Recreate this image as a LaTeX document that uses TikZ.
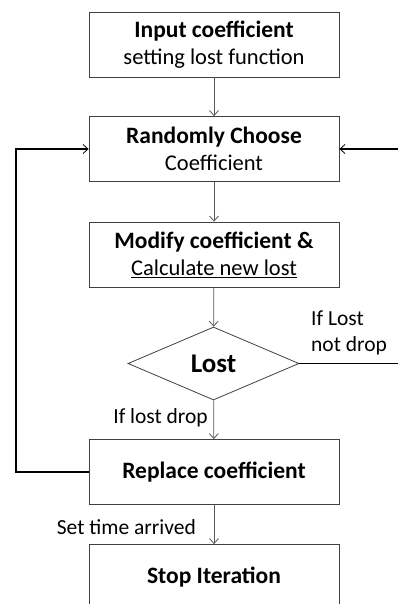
\documentclass[tikz,border=0pt]{standalone}
\usepackage{fontspec}
\setmainfont{Carlito}
\usetikzlibrary{arrows.meta,shapes.geometric}

\newcommand{\boxhead}[1]{{\fontsize{23.5}{27}\selectfont\bfseries #1}}

\tikzset{
    stepbox/.style={draw=black!75, line width=0.8pt, minimum width=250pt, minimum height=65pt,
        align=center, inner sep=0pt, font=\fontsize{22.5}{27}\selectfont},
    flow/.style={draw=black!65, line width=0.8pt, -{Straight Barb[length=5pt,width=9pt]}},
    loop/.style={draw=black, line width=1.5pt, -{Straight Barb[length=5pt,width=9pt,line width=0.8pt]}},
    lbl/.style={font=\fontsize{21.5}{26}\selectfont, inner sep=0pt}
}

\begin{document}
\begin{tikzpicture}[x=1pt,y=-1pt]
        \clip (0,0) rectangle (398,604);
        \useasboundingbox (0,0) rectangle (398,604);

        \node[stepbox] (input) at (214,44.5) {\boxhead{Input coefficient}\\setting lost function};
        \node[stepbox] (choose) at (214,149) {\boxhead{Randomly Choose}\\Coefficient};
        \node[stepbox] (modify) at (214,254.5) {\boxhead{Modify coefficient \&}\\\underline{Calculate new lost}};
        \node[draw=black!75, line width=0.8pt, diamond, aspect=2.34, minimum width=171pt, minimum height=73pt,
              inner sep=0pt, font=\fontsize{27}{30}\selectfont\bfseries] (lost) at (213.5,363.5) {Lost};
        \node[stepbox] (replace) at (214,472) {\boxhead{Replace coefficient}};
        \node[stepbox] (stop) at (214,577) {\boxhead{Stop Iteration}};

        \coordinate (leftdown) at (16,472);
        \coordinate (leftup) at (16,149);
        \coordinate (rightdown) at (401,363.5);
        \coordinate (rightup) at (401,149);

        \draw[flow] (input) -- (choose);
        \draw[flow] (choose) -- (modify);
        \draw[flow] (modify) -- (lost);
        \draw[flow] (lost) -- (replace);
        \draw[flow] (replace) -- (stop);

        \draw[loop] (replace.west) -- (leftdown) -- (leftup) -- (choose.west);
        \draw[loop] (lost.east) -- (rightdown) -- (rightup) -- (choose.east);

        \node[lbl, align=left, anchor=west] (notdrop) at (311,333) {If Lost\\not drop};
        \node[lbl, anchor=east] (drop) at (208,418) {If lost drop};
        \node[lbl, anchor=east] (arrived) at (196,527) {Set time arrived};

\end{tikzpicture}
\end{document}
